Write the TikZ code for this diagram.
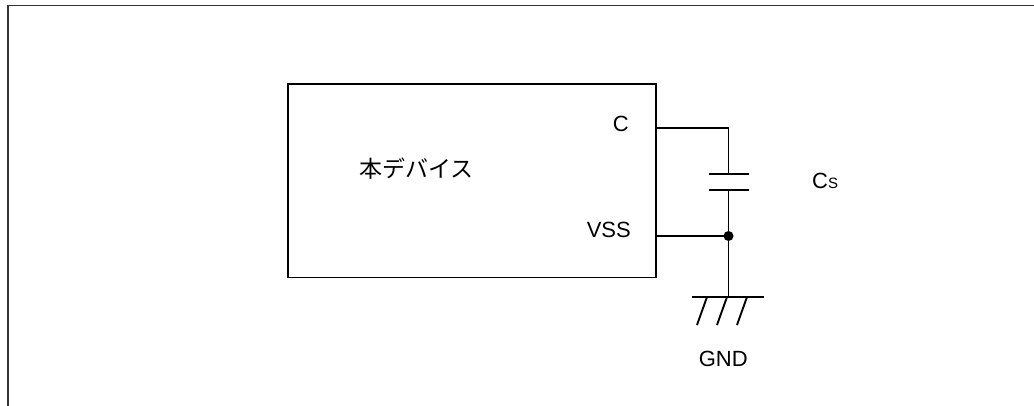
\documentclass[tikz,border=0pt]{standalone}
\usepackage{fontspec}
\setmainfont{Liberation Sans}
\newfontfamily\cjk{Noto Sans CJK JP}
\begin{document}
\begin{tikzpicture}[x=1pt,y=-1pt,
  wire/.style={line width=1.9pt,black},
  framestyle/.style={line width=1.7pt,black!80},
  lbl/.style={inner sep=0pt,font=\fontsize{22}{26}\selectfont},
  devbox/.style={draw,line width=1.9pt,inner sep=0pt,outer sep=0pt,minimum width=368pt,minimum height=193.5pt}]
\useasboundingbox (0,0) rectangle (1034,406);
% frame
\coordinate (ftr) at (1034,5.5);
\coordinate (ftl) at (8,5.5);
\coordinate (fbl) at (8,406);
\draw[framestyle] (ftr) -- (ftl) -- (fbl);
% device
\node[devbox] (dev) at (472,180.75) {};
\node[lbl,font=\fontsize{23}{26}\selectfont\cjk] (devname) at (416.7,169) {本デバイス};
\node[lbl,anchor=base east] (lc) at (629,131.7) {C};
\node[lbl,anchor=base east] (lvss) at (631,237.5) {VSS};
% wiring
\coordinate (pc) at (656,128);
\coordinate (pv) at (656,236);
\coordinate (cj) at (728.5,128);
\coordinate (p1) at (728.5,174);
\coordinate (p2) at (728.5,190);
\coordinate (jn) at (728.5,236);
\coordinate (gnd) at (728.5,297);
\draw[wire] (dev.east |- pc) -- (cj) -- (p1);
\draw[wire] ([xshift=-19.5pt]p1) -- ([xshift=20.5pt]p1);
\draw[wire] ([xshift=-19.5pt]p2) -- ([xshift=20.5pt]p2);
\draw[wire] (p2) -- (jn) -- (gnd);
\draw[wire] (dev.east |- pv) -- (jn);
\fill (jn) circle (5pt);
% ground
\draw[wire] ([xshift=-36.5pt]gnd) -- ([xshift=35.5pt]gnd);
\foreach \dx in {-21.5,-1.5,18.5} {
  \draw[wire] ([xshift=\dx pt]gnd) -- ([xshift=\dx pt-10pt,yshift=-28pt]gnd);
}
\node[lbl,anchor=base] (lgnd) at (723.3,366.5) {GND};
\node[lbl,anchor=base west] (lcs) at (812,189) {C{\fontsize{15}{15}\selectfont S}};
\end{tikzpicture}
\end{document}
